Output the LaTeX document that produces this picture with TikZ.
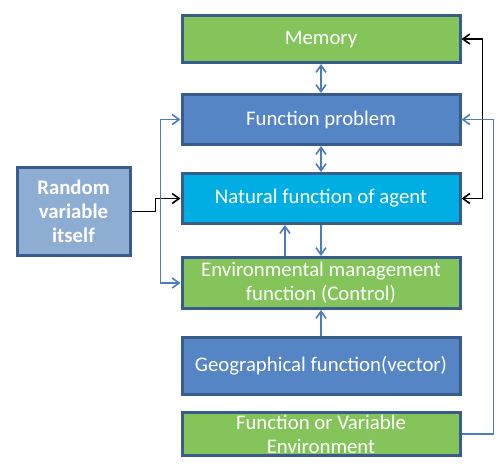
\documentclass[tikz,border=0pt]{standalone}
\usepackage{fontspec}
\setmainfont{Carlito}
\usetikzlibrary{positioning,arrows.meta}

\definecolor{frameblue}{HTML}{385D8A}
\definecolor{boxgreen}{HTML}{84C45A}
\definecolor{boxblue}{HTML}{5585C5}
\definecolor{boxcyan}{HTML}{00AEE4}
\definecolor{boxpale}{HTML}{8DADD3}
\definecolor{linkblue}{HTML}{4A7EBB}

\begin{document}
\begin{tikzpicture}[
  font=\fontsize{10.4}{12}\selectfont, >={Straight Barb[length=3.5pt,width=5pt]},
  box/.style={draw=frameblue, line width=1.5pt, text=white, align=center,
              minimum width=139pt, inner xsep=2pt, inner ysep=0pt},
  grn/.style={box, fill=boxgreen},
  blu/.style={box, fill=boxblue},
  cyn/.style={box, fill=boxcyan},
  link/.style={draw=linkblue, line width=0.8pt},
  blk/.style={draw=black, line width=0.8pt},
]
\useasboundingbox (0,0) rectangle (251pt,-234pt);
% ---- main column ----
\node[grn, minimum height=23.5pt] (mem) at (160.5pt,-19.5pt) {Memory};
\node[blu, minimum height=25pt, below=14.5pt of mem] (fp) {Function problem};
\node[cyn, minimum height=25pt, below=13pt of fp] (nat) {Natural function of agent};
\node[grn, minimum height=25.5pt, below=15.5pt of nat] (env)
  {Environmental management\\function (Control)};
\node[blu, minimum height=28.5pt, below=13pt of env] (geo) {Geographical function(vector)};
\node[grn, minimum height=21.5pt, below=7.5pt of geo] (fve)
  {Function or Variable\\Environment};
% ---- side box ----
\node[box, fill=boxpale, minimum width=56.5pt, minimum height=44pt, font=\fontsize{10.4}{12}\selectfont\bfseries,
      left=24.5pt of nat, yshift=-6.5pt] (rnd) {Random\\variable\\itself};
% ---- links in the column ----
\draw[link, <->] (mem) -- (fp);
\draw[link, <->] (fp) -- (nat);
\draw[link, ->] (nat) -- (env);
\draw[link, ->] ([xshift=-18pt]env.north) -- ([xshift=-18pt]nat.south);
\draw[link, ->] (geo) -- (env);
% ---- side links ----
\draw[blk, ->] (rnd.east) -- ++(12pt,0) |- (nat.west);
\draw[link, <->] (fp.west) -- ++(-10pt,0) |- (env.west);
\draw[blk, <->] (mem.east) -- ++(10.5pt,0) |- (nat.east);
\draw[link, ->] (fve.east) -- ++(16pt,0) |- (fp.east);
\end{tikzpicture}
\end{document}
